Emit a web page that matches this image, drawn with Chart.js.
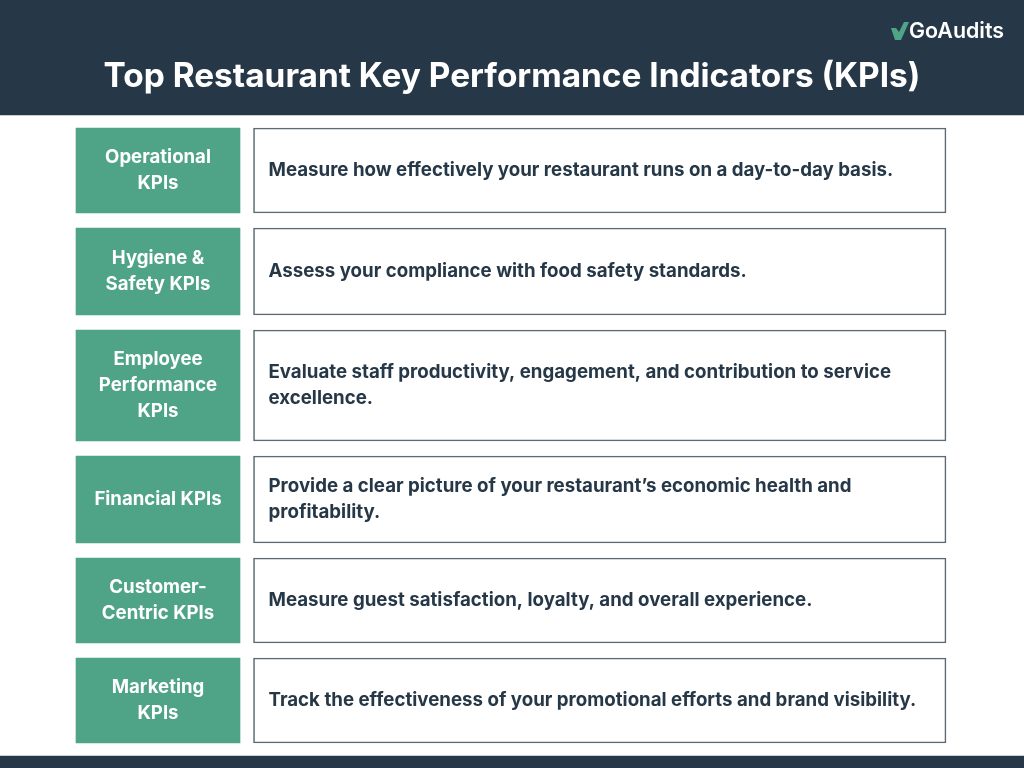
<!DOCTYPE html>
<html><head><meta charset="utf-8">
<style>html,body{margin:0;padding:0;background:#fff}#w{width:1024px;height:768px;position:relative}canvas{display:block}</style>
<script src="https://cdn.jsdelivr.net/npm/chart.js@4"></script></head>
<body><div id="w"><canvas id="c" width="1024" height="768"></canvas></div>
<script>
const titleText = "Top Restaurant Key Performance Indicators (KPIs)";
const logoText = "GoAudits";
const categories = [["Operational","KPIs"],["Hygiene &","Safety KPIs"],["Employee","Performance","KPIs"],["Financial KPIs"],["Customer-","Centric KPIs"],["Marketing","KPIs"]];
const descriptions = [
 ["Measure how effectively your restaurant runs on a day-to-day basis."],
 ["Assess your compliance with food safety standards."],
 ["Evaluate staff productivity, engagement, and contribution to service","excellence."],
 ["Provide a clear picture of your restaurant’s economic health and","profitability."],
 ["Measure guest satisfaction, loyalty, and overall experience."],
 ["Track the effectiveness of your promotional efforts and brand visibility."]];
const rowTop = [128,228,330,456,558,658];
const rowBottom = [213,315,441,543,643,743];
const labelSpan = [76,240];
const textSpan = [253.5,946];
const bands = [[0,115],[756,768]];
const DARK="#263847", GREEN="#4fa386", EDGE="#5d6a76", F="Inter, sans-serif";

const datasets=[];
const bar=(span,top,bottom,bg,bc,bw)=>datasets.push({data:[{x:span,y:(top+bottom)/2}],barThickness:bottom-top,grouped:false,
  backgroundColor:bg,borderColor:bc,borderWidth:bw,borderSkipped:false});
bands.forEach(b=>bar([0,1024],b[0],b[1],DARK,DARK,0));
rowTop.forEach((t,i)=>{bar(labelSpan,t,rowBottom[i],GREEN,GREEN,0);bar(textSpan,t,rowBottom[i],"#fff",EDGE,1.6);});

const textPlugin={id:"text",afterDatasetsDraw(ch){
  const c=ch.ctx,x=ch.scales.x,y=ch.scales.y;
  c.save();c.textBaseline="middle";
  c.fillStyle="#fff";c.textAlign="center";c.font="700 33.4px "+F;
  c.fillText(titleText,x.getPixelForValue(512),y.getPixelForValue(77));
  rowTop.forEach((t,i)=>{
    const mid=(t+rowBottom[i])/2, L=26;
    c.fillStyle="#fff";c.textAlign="center";c.font="700 18.6px "+F;
    categories[i].forEach((s,k)=>c.fillText(s,x.getPixelForValue(158),y.getPixelForValue(mid+0.3+(k-(categories[i].length-1)/2)*L)));
    c.fillStyle=DARK;c.textAlign="left";c.font="700 18.7px "+F;
    descriptions[i].forEach((s,k)=>c.fillText(s,x.getPixelForValue(268.5),y.getPixelForValue(mid+(k-(descriptions[i].length-1)/2)*L)));
  });
  // logo
  c.fillStyle=GREEN;c.beginPath();
  [[891,28],[896,28],[899,32],[904,22],[909,22],[901,40],[895,40]].forEach((p,i)=>{i?c.lineTo(p[0],p[1]):c.moveTo(p[0],p[1]);});
  c.closePath();c.fill();
  c.fillStyle="#fff";c.textAlign="left";c.font="600 21.4px "+F;
  c.fillText(logoText,909,32);
  c.restore();
}};
new Chart(document.getElementById("c"),{type:"bar",data:{datasets},
 options:{indexAxis:"y",responsive:false,animation:false,layout:{padding:0},
  plugins:{legend:{display:false},tooltip:{enabled:false},title:{display:false}},
  scales:{x:{type:"linear",min:0,max:1024,display:false,offset:false},y:{type:"linear",min:0,max:768,reverse:true,display:false,offset:false}}},
 plugins:[textPlugin]});
</script></body></html>
